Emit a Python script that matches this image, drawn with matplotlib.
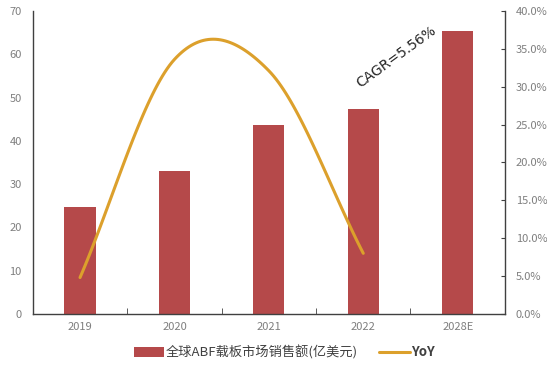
import matplotlib.pyplot as plt
import numpy as np
from matplotlib.ticker import PercentFormatter, FixedLocator

plt.rcParams['font.family'] = ['Noto Sans CJK SC', 'DejaVu Sans']

years = ['2019', '2020', '2021', '2022', '2028E']
sales = [24.8, 33.1, 43.7, 47.3, 65.3]          # 亿美元
yoy_years = [0, 1, 2, 3]
yoy = [4.8, 33.6, 32.1, 8.0]                    # %
cagr_text = 'CAGR=5.56%'

bar_color = '#B5494A'
line_color = '#DCA02C'
axis_color = '#404040'
tick_color = '#7F7F7F'


def catmull_rom(xs, ys, n=40):
    # smooth curve through the points, like a spreadsheet "smoothed line"
    xs = np.asarray(xs, float)
    ys = np.asarray(ys, float)
    out_x, out_y = [], []
    for i in range(len(xs) - 1):
        p0, p1 = ys[i], ys[i + 1]
        m0 = (ys[i + 1] - ys[i - 1]) / 2 if i > 0 else (p1 - p0)
        m1 = (ys[i + 2] - ys[i]) / 2 if i + 2 < len(ys) else (p1 - p0)
        t = np.linspace(0, 1, n)
        h00 = 2 * t**3 - 3 * t**2 + 1
        h10 = t**3 - 2 * t**2 + t
        h01 = -2 * t**3 + 3 * t**2
        h11 = t**3 - t**2
        out_x.append(xs[i] + t * (xs[i + 1] - xs[i]))
        out_y.append(h00 * p0 + h10 * m0 + h01 * p1 + h11 * m1)
    return np.concatenate(out_x), np.concatenate(out_y)


fig = plt.figure(figsize=(5.47, 3.65), dpi=100)
ax = fig.add_axes([0.060, 0.140, 0.863, 0.830])
x = np.arange(len(years))
bars = ax.bar(x, sales, width=0.33, color=bar_color, zorder=2,
              label='全球ABF载板市场销售额(亿美元)')
ax.set_xlim(-0.5, len(years) - 0.5)
ax.set_ylim(0, 70)
ax.set_yticks(range(0, 71, 10))
ax.set_xticks(x)
ax.set_xticklabels(years)
ax.xaxis.set_minor_locator(FixedLocator(x[:-1] + 0.5))
ax.tick_params(axis='x', which='major', length=0, labelsize=8,
               labelcolor=tick_color, pad=6)
ax.tick_params(axis='x', which='minor', direction='in', length=4,
               color=axis_color)
ax.tick_params(axis='y', length=0, labelsize=8, labelcolor=tick_color, pad=8)
ax.spines['top'].set_visible(False)
ax.spines['right'].set_visible(False)
for s in ('left', 'bottom'):
    ax.spines[s].set_color(axis_color)
    ax.spines[s].set_linewidth(1.0)

ax2 = ax.twinx()
sx, sy = catmull_rom(yoy_years, yoy)
line, = ax2.plot(sx, sy, color=line_color, lw=2.2, solid_capstyle='round',
                 label='YoY', zorder=3)
ax2.set_ylim(0, 40)
ax2.set_yticks(np.arange(0, 41, 5))
ax2.yaxis.set_major_formatter(PercentFormatter(decimals=1))
ax2.tick_params(axis='y', direction='in', length=3, color=axis_color,
                labelsize=8, labelcolor=tick_color, pad=8)
ax2.spines['top'].set_visible(False)
ax2.spines['left'].set_visible(False)
ax2.spines['bottom'].set_visible(False)
ax2.spines['right'].set_color(axis_color)
ax2.spines['right'].set_linewidth(1.0)

ax.text(3.35, 59.5, cagr_text, rotation=36, ha='center', va='center',
        fontsize=10, color='#262626', family=['DejaVu Sans'])

leg = fig.legend([bars, line], ['全球ABF载板市场销售额(亿美元)', 'YoY'],
                 loc='center', bbox_to_anchor=(0.52, 0.035), ncol=2,
                 frameon=False, fontsize=9.5, handlelength=2.3,
                 handleheight=0.75, handletextpad=0.15, columnspacing=1.6,
                 labelcolor='#404040')
leg.get_texts()[1].set_fontweight('bold')

fig.savefig('out.png', dpi=100)
